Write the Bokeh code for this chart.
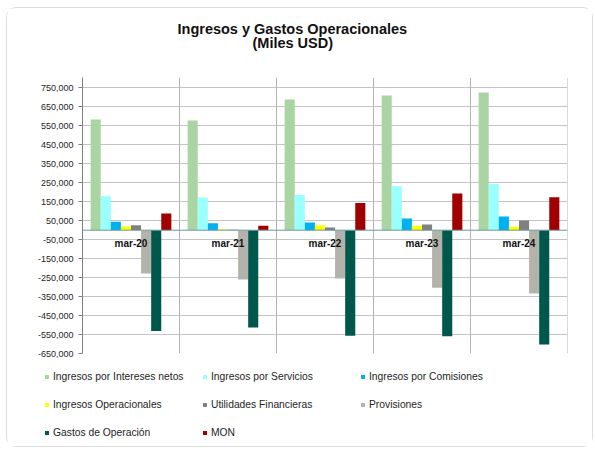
from bokeh.plotting import figure
from bokeh.models import (ColumnDataSource, FixedTicker, NumeralTickFormatter, Span,
                          Legend, LegendItem, Title, Range1d)
from bokeh.core.properties import value
from bokeh.transform import dodge
from bokeh.embed import file_html
from bokeh.resources import INLINE

periods = ["mar-20", "mar-21", "mar-22", "mar-23", "mar-24"]
series_names = ["Ingresos por Intereses netos", "Ingresos por Servicios",
                "Ingresos por Comisiones", "Ingresos Operacionales",
                "Utilidades Financieras", "Provisiones",
                "Gastos de Operación", "MON"]
intereses = [583000, 578000, 689000, 710000, 726000]
servicios = [179000, 172000, 186000, 232000, 243000]
comisiones = [44000, 37000, 40000, 62000, 72000]
operacionales = [19000, 5000, 26000, 23000, 18000]
utilidades = [26000, 2000, 14000, 30000, 51000]
provisiones = [-228000, -260000, -255000, -304000, -334000]
gastos = [-531000, -513000, -557000, -559000, -603000]
mon = [88000, 23000, 144000, 193000, 174000]
y_ticks = [-650000, -550000, -450000, -350000, -250000, -150000, -50000,
           50000, 150000, 250000, 350000, 450000, 550000, 650000, 750000]

colors = ["#A9D5A2", "#99FFFF", "#00B0F0", "#FFFF00",
          "#808080", "#B3B3AB", "#00574B", "#A00000"]
keys = ["intereses", "servicios", "comisiones", "operacionales",
        "utilidades", "provisiones", "gastos", "mon"]

source = ColumnDataSource(data=dict(
    period=periods, zero=[0] * len(periods),
    intereses=intereses, servicios=servicios, comisiones=comisiones,
    operacionales=operacionales, utilidades=utilidades, provisiones=provisiones,
    gastos=gastos, mon=mon))

FONT = "Liberation Sans"
BORDER = "1px solid #dcdcdc"

# ---------------- main chart ----------------
p = figure(x_range=periods, y_range=Range1d(-650000, 805000),
           width=587, height=356, output_backend="svg", toolbar_location=None,
           min_border_left=75, min_border_right=27, min_border_top=69,
           min_border_bottom=11)
p.styles = {"border": BORDER, "border-bottom": "none",
            "border-radius": "10px 10px 0 0", "margin": "7px 0 0 6px"}
p.outline_line_color = None
p.background_fill_color = "white"

bar_w = 0.104
renderers = []
for i, (k, c) in enumerate(zip(keys, colors)):
    off = (i - 3.5) * bar_w
    r = p.vbar(x=dodge("period", off, range=p.x_range), top=k, bottom=0,
               width=bar_w, source=source, fill_color=c, line_color=None)
    renderers.append(r)

# category separators
for b in range(1, len(periods) + 1):
    p.add_layout(Span(location=b, dimension="height", line_color="#b4b4b4",
                      line_width=1, level="underlay"))
# zero line
p.add_layout(Span(location=0, dimension="width", line_color="#6a9c9c", line_width=1))

# category labels just below zero line
p.text(x="period", y="zero", text="period", source=source, text_align="center",
       text_baseline="top", y_offset=8, text_font=value(FONT),
       text_font_style="bold", text_font_size="10px", text_color="#111111")

p.xaxis.visible = False
p.xgrid.visible = False
p.ygrid.ticker = FixedTicker(ticks=y_ticks)
p.ygrid.grid_line_color = "#c4c4c4"

p.yaxis.ticker = FixedTicker(ticks=y_ticks)
p.yaxis.formatter = NumeralTickFormatter(format="0,0")
p.yaxis.axis_line_color = "#808080"
p.yaxis.major_tick_line_color = "#808080"
p.yaxis.major_tick_out = 4
p.yaxis.major_tick_in = 0
p.yaxis.minor_tick_line_color = None
p.yaxis.major_label_standoff = 5
p.yaxis.major_label_text_font = FONT
p.yaxis.major_label_text_font_size = "9px"
p.yaxis.major_label_text_color = "#1e1e1e"

title_kw = dict(align="left", text_font=FONT, text_font_style="bold",
                text_font_size="14.5px", text_color="#111111")
# spacer between frame and the two title lines
p.add_layout(Title(text=" ", standoff=9, offset=0, **title_kw), "above")
p.add_layout(Title(text="(Miles USD)", standoff=0, offset=170, **title_kw), "above")
p.add_layout(Title(text="Ingresos y Gastos Operacionales", standoff=-9, offset=95,
                   **title_kw), "above")

# ---------------- legend strip ----------------
lf = figure(width=587, height=84, output_backend="svg", toolbar_location=None,
            x_axis_type=None, y_axis_type=None, min_border=0,
            x_range=Range1d(0, 1), y_range=Range1d(0, 1))
lf.styles = {"border": BORDER, "border-top": "none",
             "border-radius": "0 0 10px 10px", "margin": "0 0 0 6px"}
lf.outline_line_color = None
lf.xgrid.visible = False
lf.ygrid.visible = False
offscreen = ColumnDataSource(data=dict(x=[-5], top=[-5]))
legend_renderers = [lf.vbar(x="x", top="top", width=0.1, source=offscreen,
                            fill_color=c, line_color=None) for c in colors]

rows = [(0, 3), (3, 6), (6, 8)]
row_y = [61, 33, 5]
for (a, b), yy in zip(rows, row_y):
    lg = Legend(items=[LegendItem(label=series_names[j], renderers=[legend_renderers[j]])
                       for j in range(a, b)],
                orientation="horizontal", location=(37, yy),
                glyph_width=5, glyph_height=5, label_standoff=4, label_width=141,
                label_height=20, spacing=8, padding=0, margin=0,
                border_line_color=None, background_fill_alpha=0,
                label_text_font=FONT, label_text_font_size="10.3px",
                label_text_color="#1e1e1e")
    lf.add_layout(lg, "center")

open("out.html", "w").write(file_html((p, lf), INLINE))
